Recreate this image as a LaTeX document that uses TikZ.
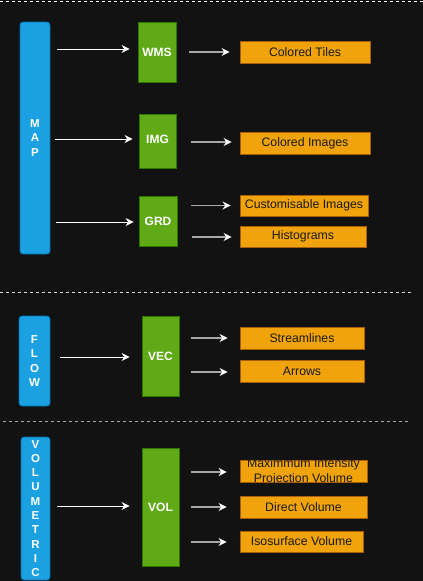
\documentclass[tikz,border=0pt]{standalone}
\usepackage{fontspec}
\setmainfont{Liberation Sans}
\usetikzlibrary{arrows.meta,calc}
\definecolor{bg}{HTML}{121212}
\definecolor{catf}{HTML}{1BA1E2}
\definecolor{catb}{HTML}{006EAF}
\definecolor{procf}{HTML}{60A917}
\definecolor{procb}{HTML}{2D7600}
\definecolor{outf}{HTML}{F0A30A}
\definecolor{outb}{HTML}{A85E0A}
\definecolor{txt}{HTML}{1A1A1A}
\definecolor{grayline}{HTML}{A8A8A8}
\begin{document}
\begin{tikzpicture}[x=1pt,y=-1pt,
  cat/.style={draw=catb, fill=catf, rounded corners=3, line width=0.8, inner sep=0},
  proc/.style={draw=procb, fill=procf, line width=0.8, inner sep=0, text=white,
    font=\bfseries\fontsize{12}{14}\selectfont},
  outbox/.style={draw=outb, fill=outf, line width=0.8, inner sep=0, text=txt,
    font=\fontsize{12.3}{14}\selectfont},
  vlet/.style={text=white, font=\bfseries\fontsize{11.5}{14.3}\selectfont, align=center, inner sep=0},
  arrw/.style={-{Stealth[length=8,width=8]}, white, line width=1},
  arrgr/.style={-{Stealth[length=8,width=8,color=white]}, draw=grayline, line width=1.6},
  sep/.style={dash pattern=on 3pt off 3pt, line width=0.8}
]
\fill[bg] (0,0) rectangle (423,581);
\useasboundingbox (0,0) rectangle (423,581);

% separators
\draw[sep, white] (0,1) -- (423,1);
\draw[sep, white!85!black] (0,292.5) -- (411,292.5);
\draw[sep, draw=grayline] (3,421) -- (409,421);

% MAP section
\node[cat, minimum width=30, minimum height=232] (map) at (35,138) {};
\node[vlet] (maplbl) at (map.center) {M\\A\\P};
\node[proc, minimum width=38, minimum height=60] (wms) at (157,52) {WMS};
\node[proc, minimum width=37, minimum height=54] (img) at (157.5,141) {};
\node[vlet, font=\bfseries\fontsize{12}{14}\selectfont] (imglbl) at (157.5,139) {IMG};
\node[proc, minimum width=38, minimum height=50] (grd) at (158,221) {GRD};
\node[outbox, minimum width=130, minimum height=22] (tiles) at (305,52) {Colored Tiles};
\node[outbox, minimum width=130, minimum height=22] (cimg) at (305,143) {Colored Images};
\node[outbox, minimum width=128, minimum height=21] (cust) at (304,205.5) {Customisable Images};
\node[outbox, minimum width=126, minimum height=21] (hist) at (303,236.5) {Histograms};

\draw[arrw] ($(map.east |- wms.west)+(7,-3)$) -- ($(wms.west)+(-8,-3)$);
\draw[arrw] ($(map.east |- img.west)+(5,-2)$) -- ($(img.west)+(-6,-2)$);
\draw[arrw] ($(map.east |- grd.west)+(6,1)$) -- ($(grd.west)+(-5,1)$);
\draw[arrgr] ($(wms.east |- tiles.west)+(13,0)$) -- ($(tiles.west)+(-10,0)$);
\draw[arrgr] ($(img.east |- cimg.west)+(15,-1)$) -- ($(cimg.west)+(-8,-1)$);
\draw[arrgr] ($(grd.east |- cust.west)+(14,0)$) -- ($(cust.west)+(-9,0)$);
\draw[arrgr] ($(grd.east |- hist.west)+(15,0.5)$) -- ($(hist.west)+(-8,0.5)$);

% FLOW section
\node[cat, minimum width=31, minimum height=90] (flow) at (34.5,361) {};
\node[vlet] (flowlbl) at (flow.center) {F\\L\\O\\W};
\node[proc, minimum width=37, minimum height=80] (vec) at (160.5,356) {VEC};
\node[outbox, minimum width=124, minimum height=22] (stream) at (302,338) {Streamlines};
\node[outbox, minimum width=124, minimum height=22] (arrows) at (302,371) {Arrows};

\draw[arrw] ($(flow.east |- vec.west)+(10,1)$) -- ($(vec.west)+(-12,1)$);
\draw[arrgr] ($(vec.east |- stream.west)+(12,0)$) -- ($(stream.west)+(-12,0)$);
\draw[arrgr] ($(vec.east |- arrows.west)+(12,1)$) -- ($(arrows.west)+(-12,1)$);

% VOLUMETRIC section
\node[cat, minimum width=29, minimum height=143] (volm) at (35.5,508.5) {};
\node[vlet] (volmlbl) at (volm.center) {V\\O\\L\\U\\M\\E\\T\\R\\I\\C};
\node[proc, minimum width=37, minimum height=118] (vol) at (160.5,507) {VOL};
\node[outbox, minimum width=127, minimum height=22] (mip) at (303.5,471) {};
\node[vlet, text=txt, font=\fontsize{12.3}{15}\selectfont] (miplbl) at (303.5,471.5) {Maximmum Intensity\\Projection Volume};
\node[outbox, minimum width=127, minimum height=22] (dvol) at (303.5,507) {Direct Volume};
\node[outbox, minimum width=123, minimum height=21] (iso) at (301.5,541.5) {Isosurface Volume};

\draw[arrw] ($(volm.east |- vol.west)+(7,-1)$) -- ($(vol.west)+(-12,-1)$);
\draw[arrgr] ($(vol.east |- mip.west)+(12,1)$) -- ($(mip.west)+(-13,1)$);
\draw[arrgr] ($(vol.east |- dvol.west)+(12,0)$) -- ($(dvol.west)+(-13,0)$);
\draw[arrgr] ($(vol.east |- iso.west)+(12,0.5)$) -- ($(iso.west)+(-13,0.5)$);
\end{tikzpicture}
\end{document}
